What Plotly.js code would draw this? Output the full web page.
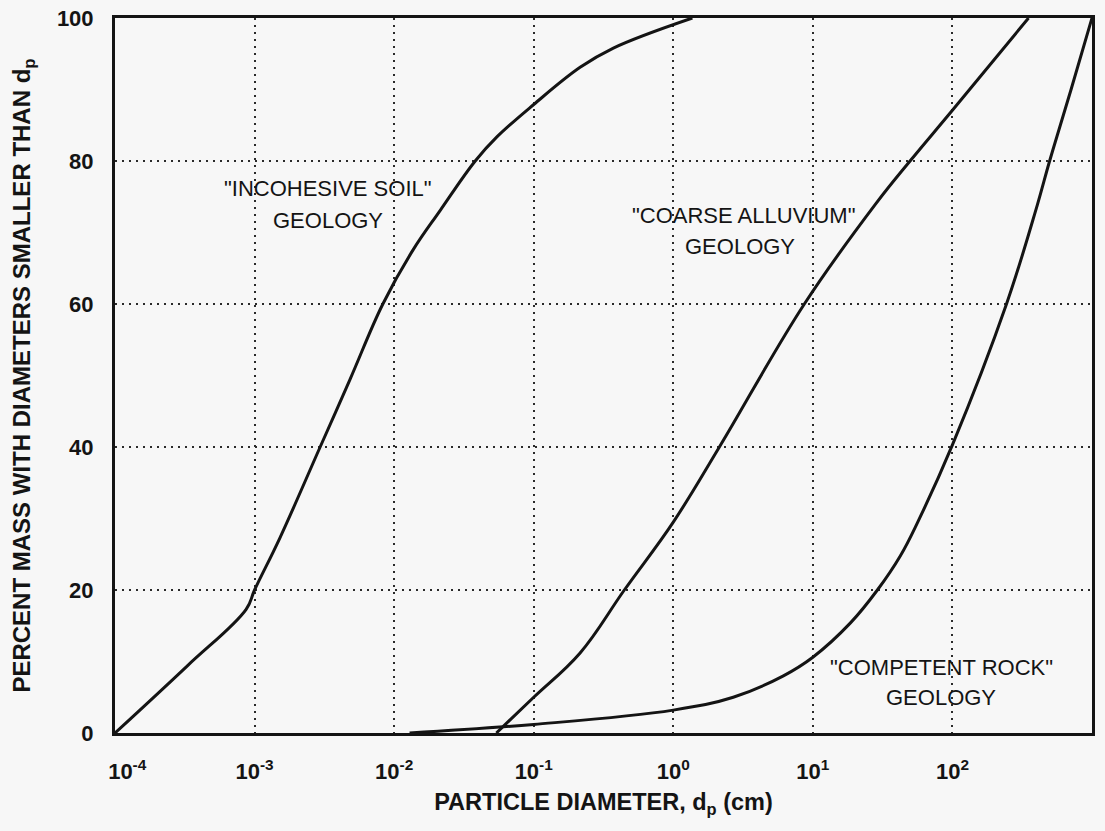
<!DOCTYPE html>
<html>
<head>
<meta charset="utf-8">
<script src="https://cdn.plot.ly/plotly-3.0.1.min.js"></script>
<style>html,body{margin:0;padding:0;background:#f7f7f7;}#chart{width:1105px;height:831px;}</style>
</head>
<body>
<div id="chart"></div>
<script>
// Particle diameter (cm) and percent mass smaller than d_p
const incohesiveDiam = [1.0e-4, 3.3e-4, 8.7e-4, 1.0e-3, 1.52e-3, 2.95e-3, 4.84e-3, 8.3e-3, 1.37e-2, 2.14e-2, 3.81e-2, 5.47e-2, 0.1, 0.215, 0.372, 1.37];
const incohesivePct  = [0, 9.4, 17.3, 20, 27.3, 40, 49.5, 60, 67.6, 73.1, 80, 83.4, 87.9, 93.1, 95.8, 100];

const alluviumDiam = [0.054, 0.1, 0.215, 0.446, 1.0, 2.14, 8.69, 28.2, 49.7, 100, 351];
const alluviumPct  = [0, 5.0, 11.2, 20, 29.5, 40, 60, 74, 80, 87.1, 100];

const rockDiam = [0.0129, 0.1, 1.0, 2.69, 6.15, 10, 18.6, 29, 42.4, 56.1, 100, 244, 405, 497, 708, 1000];
const rockPct  = [0, 1.2, 3.2, 5.0, 8.0, 10.6, 15.4, 20, 24.8, 29.4, 40.3, 60, 73.8, 80, 90, 100];

const xTickVals = [1e-4, 1e-3, 1e-2, 1e-1, 1, 10, 100, 1000];
const xTickText = ['\u00a0\u00a0\u00a0\u00a010<sup>-4</sup>', '10<sup>-3</sup>', '10<sup>-2</sup>', '10<sup>-1</sup>', '10<sup>0</sup>', '10<sup>1</sup>', '10<sup>2</sup>', '10<sup>3</sup>\u00a0\u00a0\u00a0\u00a0'];
const yTickVals = [0, 20, 40, 60, 80, 100];

const ink = '#141414';
const bg = '#f7f7f7';
const fontFam = 'Liberation Sans, Arial, Helvetica, sans-serif';

function curve(x, y, name, smooth) {
  return {x: x, y: y, name: name, type: 'scatter', mode: 'lines',
          line: {color: ink, width: 3, shape: 'spline', smoothing: smooth},
          hoverinfo: 'x+y', showlegend: false};
}

const data = [
  curve(incohesiveDiam, incohesivePct, 'Incohesive soil geology', 1.1),
  curve(alluviumDiam, alluviumPct, 'Coarse alluvium geology', 1.1),
  curve(rockDiam, rockPct, 'Competent rock geology', 1.1)
];

function label(text, xval, yval) {
  return {text: text, x: Math.log10(xval), y: yval, xref: 'x', yref: 'y', showarrow: false,
          font: {family: fontFam, size: 22, color: ink}, xanchor: 'center', yanchor: 'middle'};
}

function mask(x0, x1, y0, y1) {
  return {type: 'rect', xref: 'paper', yref: 'paper', x0: x0, x1: x1, y0: y0, y1: y1,
          fillcolor: bg, line: {width: 0}, layer: 'between'};
}

const layout = {
  width: 1105, height: 831,
  margin: {l: 115, r: 13, t: 18, b: 98, pad: 0},
  paper_bgcolor: bg, plot_bgcolor: bg,
  font: {family: fontFam, color: ink},
  showlegend: false,
  xaxis: {
    type: 'log', range: [-4, 3],
    tickmode: 'array', tickvals: xTickVals, ticktext: xTickText,
    ticks: '', ticklabelstandoff: 17,
    tickfont: {family: fontFam, size: 22, weight: 'bold', color: ink},
    showgrid: true, gridcolor: '#2a2a2a', gridwidth: 2, griddash: '2px,5px',
    showline: true, linecolor: ink, linewidth: 3, mirror: true, zeroline: false,
    title: {text: 'PARTICLE DIAMETER, d<sub>p</sub> (cm)', standoff: 11,
            font: {family: fontFam, size: 23.5, weight: 'bold', color: ink}}
  },
  yaxis: {
    range: [0, 100],
    tickmode: 'array', tickvals: yTickVals,
    ticks: '', ticklabelstandoff: 14,
    tickfont: {family: fontFam, size: 22, weight: 'bold', color: ink},
    showgrid: true, gridcolor: '#2a2a2a', gridwidth: 2, griddash: '2px,5px',
    showline: true, linecolor: ink, linewidth: 3, mirror: true, zeroline: false,
    title: {text: 'PERCENT MASS WITH DIAMETERS SMALLER THAN d<sub>p</sub>', standoff: 20,
            font: {family: fontFam, size: 24, weight: 'bold', color: ink}}
  },
  shapes: [
    mask(0.1034, 0.3327, 0.7343, 0.7902),
    mask(0.519, 0.7666, 0.7021, 0.7483),
    mask(0.783, 0.9058, 0.028, 0.130)
  ],
  annotations: [
    label('"INCOHESIVE SOIL"', 0.00336, 76.2),
    label('GEOLOGY', 0.00336, 71.7),
    label('"COARSE ALLUVIUM"', 3.18, 72.4),
    label('GEOLOGY', 3.02, 68.0),
    label('"COMPETENT ROCK"', 83.4, 9.1),
    label('GEOLOGY', 83.4, 4.9)
  ]
};

Plotly.newPlot('chart', data, layout, {displayModeBar: false, staticPlot: true});
</script>
</body>
</html>
